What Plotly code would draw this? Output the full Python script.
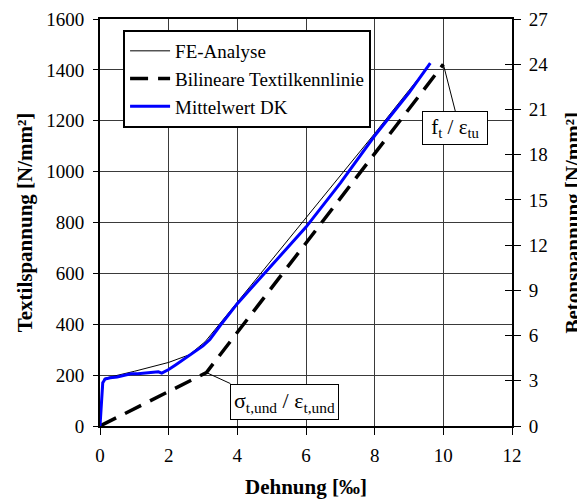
import plotly.graph_objects as go

# Data
fe_x = [0, 0.05, 0.12, 1.0, 2.0, 2.6, 3.06, 4.0, 5.0, 6.0, 7.0, 8.0, 9.0, 9.6]
fe_y = [0, 120, 187, 215, 250, 280, 331, 487, 650, 815, 985, 1150, 1320, 1420]

bil_x = [0, 3.1, 10]
bil_y = [0, 210, 1422]

dk_x = [0, 0.03, 0.08, 0.15, 0.3, 0.5, 0.7, 0.9, 1.1, 1.3, 1.5, 1.7, 1.8, 1.9, 2.0,
        2.2, 2.5, 2.8, 3.0, 3.2, 3.5, 4.0, 4.8, 6.0, 7.0, 8.0, 9.0, 9.62]
dk_y = [0, 80, 170, 185, 190, 193, 200, 205, 205, 208, 210, 213, 208, 215, 222,
        240, 268, 295, 315, 340, 395, 481, 600, 782, 955, 1141, 1310, 1427]

x_ticks = [0, 2, 4, 6, 8, 10, 12]
y_ticks = [0, 200, 400, 600, 800, 1000, 1200, 1400, 1600]
y2_ticks = [0, 3, 6, 9, 12, 15, 18, 21, 24, 27]

FONT = "Liberation Serif"

fig = go.Figure()
fig.add_trace(go.Scatter(x=fe_x, y=fe_y, mode="lines", name="FE-Analyse",
                         legendgroup="a", line=dict(color="black", width=1)))
fig.add_trace(go.Scatter(x=bil_x, y=bil_y, mode="lines", name="Bilineare Textilkennlinie",
                         legendgroup="b",
                         line=dict(color="black", width=3.5, dash="18px,10px")))
fig.add_trace(go.Scatter(x=dk_x, y=dk_y, mode="lines", name="Mittelwert DK",
                         legendgroup="c", line=dict(color="#0000ff", width=3)))
# invisible traces to activate the secondary axes
fig.add_trace(go.Scatter(x=[0], y=[0], yaxis="y2", mode="markers",
                         marker=dict(opacity=0), showlegend=False, hoverinfo="skip"))
fig.add_trace(go.Scatter(x=[0], y=[0], yaxis="y3", mode="markers",
                         marker=dict(opacity=0), showlegend=False, hoverinfo="skip"))

TITLE_FONT = dict(family=FONT, size=21, color="black")
TICK_FONT = dict(family=FONT, size=19, color="black")

fig.update_layout(
    width=577, height=493,
    margin=dict(l=92, r=73, t=11, b=75),
    paper_bgcolor="white", plot_bgcolor="white",
    font=dict(family=FONT, size=19, color="black"),
    showlegend=True,
    legend=dict(x=0.056, y=0.973, xanchor="left", yanchor="top",
                bordercolor="black", borderwidth=2, bgcolor="white",
                font=dict(family=FONT, size=19, color="black"), tracegroupgap=0,
                itemwidth=40),
    xaxis=dict(range=[0, 12], tickvals=x_ticks, showgrid=True, automargin=False,
               gridcolor="#3a3a3a", gridwidth=1, showline=True, linecolor="black",
               linewidth=2, mirror=True, ticks="outside", ticklen=7,
               tickcolor="black", zeroline=False, ticklabelstandoff=4,
               tickfont=TICK_FONT,
               title=dict(text="<b>Dehnung [‰]</b>", font=TITLE_FONT, standoff=15)),
    yaxis=dict(range=[0, 1600], tickvals=y_ticks, showgrid=True, automargin=False,
               gridcolor="#3a3a3a", gridwidth=1, showline=True, linecolor="black",
               linewidth=2, mirror=True, ticks="outside", ticklen=5,
               tickcolor="black", zeroline=False, ticklabelstandoff=5,
               tickfont=TICK_FONT,
               title=dict(text="<b>Textilspannung [N/mm²]</b>", font=TITLE_FONT, standoff=8)),
    yaxis2=dict(range=[0, 27], tickvals=y2_ticks, overlaying="y", side="right",
                automargin=False, showgrid=False, zeroline=False, showline=False,
                ticks="outside", ticklen=8, tickcolor="black", ticklabelstandoff=4,
                tickfont=TICK_FONT),
    yaxis3=dict(range=[0, 27], tickvals=y2_ticks, overlaying="y", side="right",
                automargin=False, showgrid=False, zeroline=False, showline=False,
                showticklabels=False, ticks="inside", ticklen=7, tickcolor="black"),
)

# right axis title as rotated paper-anchored text
fig.add_annotation(x=1, y=0.5, xref="paper", yref="paper",
                   text="<b>Betonspannung [N/mm²]</b>", textangle=-90,
                   showarrow=False, xanchor="center", yanchor="middle", xshift=60,
                   font=TITLE_FONT)

fig.add_annotation(x=3.1, y=210, xref="x", yref="y",
                   text="σ<sub>t,und</sub> / ε<sub>t,und</sub>",
                   showarrow=True, arrowhead=0, arrowwidth=1, arrowcolor="black",
                   ax=24, ay=11, xanchor="left", yanchor="top",
                   bordercolor="black", borderwidth=1, bgcolor="white", borderpad=3,
                   font=dict(family=FONT, size=22, color="black"))
fig.add_annotation(x=10, y=1422, xref="x", yref="y",
                   text="\u00a0f<sub>t</sub> / ε<sub>tu</sub>\u00a0",
                   showarrow=True, arrowhead=0, arrowwidth=1, arrowcolor="black",
                   ax=12, ay=47, xanchor="center", yanchor="top",
                   bordercolor="black", borderwidth=1, bgcolor="white", borderpad=3,
                   font=dict(family=FONT, size=21, color="black"))

fig.write_html("out.html")
